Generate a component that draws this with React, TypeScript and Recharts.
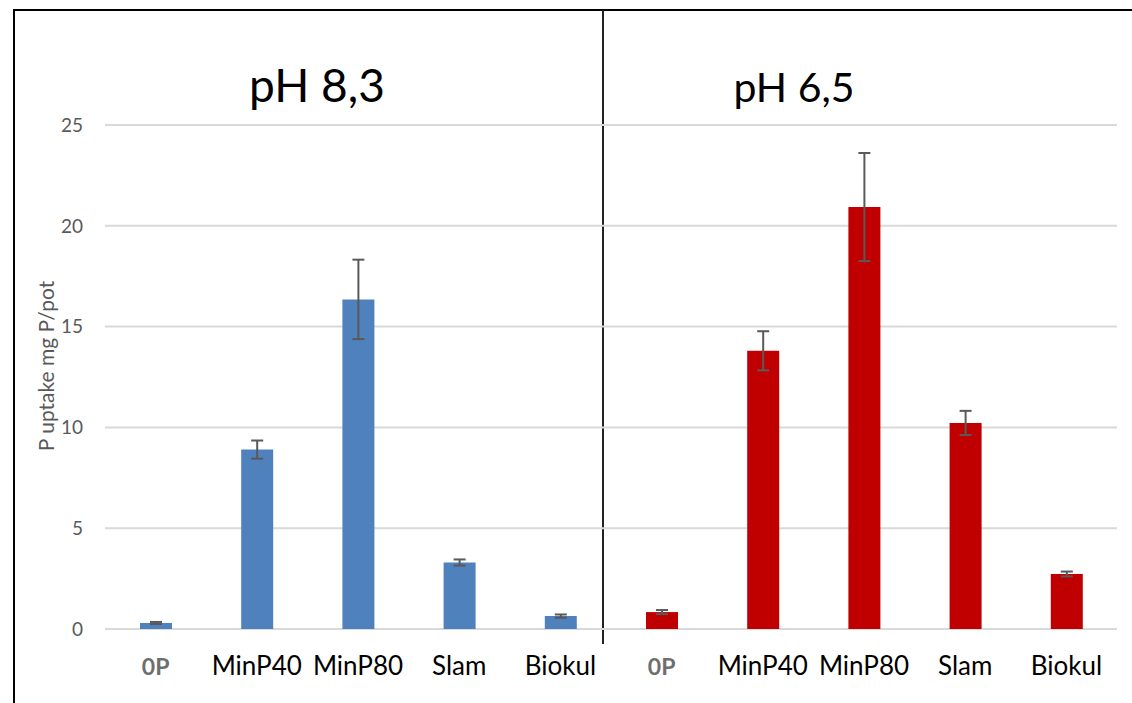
import { Bar, BarChart, CartesianGrid, Cell, ErrorBar, XAxis, YAxis } from 'recharts'

const treatments = ['0P', 'MinP40', 'MinP80', 'Slam', 'Biokul']
const uptakePh83 = [0.3, 8.9, 16.35, 3.3, 0.64]
const errorPh83 = [0.05, 0.45, 1.97, 0.15, 0.08]
const uptakePh65 = [0.84, 13.8, 20.93, 10.22, 2.73]
const errorPh65 = [0.1, 0.97, 2.68, 0.6, 0.12]
const yTicks = [0, 5, 10, 15, 20, 25]
const groupTitles = ['pH 8,3', 'pH 6,5']

const BLUE = '#4f81bd'
const RED = '#c00000'

const data = [
  ...treatments.map((t, i) => ({ id: `a-${t}`, name: t, value: uptakePh83[i], err: errorPh83[i], group: 0 })),
  ...treatments.map((t, i) => ({ id: `b-${t}`, name: t, value: uptakePh65[i], err: errorPh65[i], group: 1 })),
]

const nameById: Record<string, string> = Object.fromEntries(data.map((d) => [d.id, d.name]))

function CategoryTick(props: any) {
  const { x, y, payload } = props
  const label = nameById[payload.value]
  const isControl = label === '0P'
  return (
    <text
      x={x}
      y={y + 46}
      textAnchor='middle'
      fontFamily='Lato, sans-serif'
      fontSize={isControl ? 23 : 26}
      fontWeight={isControl ? 700 : 400}
      fill={isControl ? '#6e6e6e' : '#000000'}
    >
      {label}
    </text>
  )
}

export default function App() {
  return (
    <div style={{ position: 'fixed', left: 0, top: 0, width: 1132, height: 703, background: '#fff', overflow: 'hidden' }}>
      {/* frame + divider */}
      <div style={{ position: 'absolute', left: 13, top: 9, width: 1200, height: 800, borderLeft: '2px solid #000', borderTop: '2px solid #000' }} />
      <div style={{ position: 'absolute', left: 602, top: 10, width: 2, height: 634, background: '#222' }} />

      <div style={{ position: 'absolute', left: 0, top: 0 }}>
        <BarChart width={1132} height={703} data={data} margin={{ top: 125, right: 15, bottom: 44, left: 0 }}>
          <CartesianGrid vertical={false} stroke='#d9d9d9' strokeWidth={2} />
          <XAxis
            dataKey='id'
            axisLine={false}
            tickLine={false}
            tickSize={0}
            tickMargin={0}
            height={30}
            interval={0}
            tick={<CategoryTick />}
          />
          <YAxis
            domain={[0, 25]}
            ticks={yTicks}
            width={105}
            axisLine={false}
            tickLine={false}
            tickSize={0}
            tickMargin={22}
            tick={{ fill: '#595959', fontSize: 19, fontFamily: 'Lato, sans-serif' }}
          />
          <Bar dataKey='value' barSize={32} isAnimationActive={false}>
            {data.map((d) => (
              <Cell key={d.id} fill={d.group === 0 ? BLUE : RED} />
            ))}
            <ErrorBar dataKey='err' width={6} stroke='#595959' strokeWidth={2} />
          </Bar>
        </BarChart>
      </div>

      {/* y axis title */}
      <div
        style={{
          position: 'absolute',
          left: 45,
          top: 366,
          transform: 'translate(-50%, -50%) rotate(-90deg)',
          whiteSpace: 'nowrap',
          fontFamily: 'Lato, sans-serif',
          fontSize: 21,
          color: '#595959',
        }}
      >
        P uptake mg P/pot
      </div>

      {/* group titles */}
      <div style={{ position: 'absolute', left: 317, top: 84, transform: 'translate(-50%, -50%)', fontFamily: 'Lato, sans-serif', fontSize: 46, color: '#000', whiteSpace: 'nowrap' }}>
        {groupTitles[0]}
      </div>
      <div style={{ position: 'absolute', left: 794, top: 86, transform: 'translate(-50%, -50%)', fontFamily: 'Lato, sans-serif', fontSize: 41, color: '#000', whiteSpace: 'nowrap' }}>
        {groupTitles[1]}
      </div>
    </div>
  )
}
